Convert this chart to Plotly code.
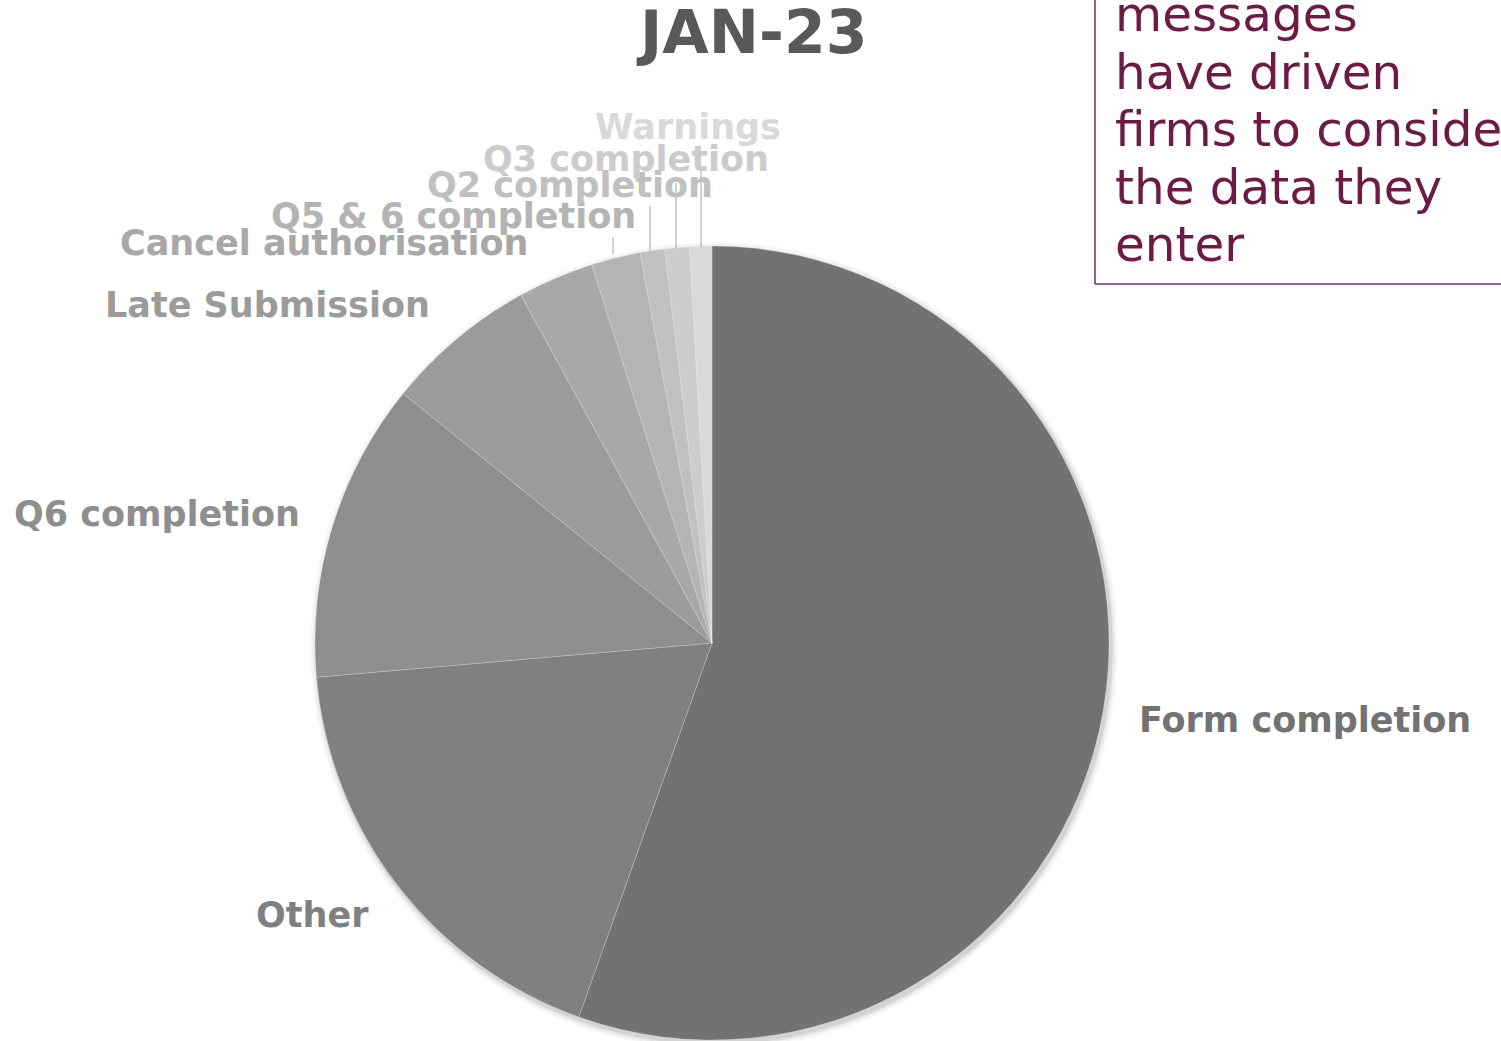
import plotly.graph_objects as go

W, H = 1501, 1041

categories = ["Form completion", "Other", "Q6 completion", "Late Submission",
              "Cancel authorisation", "Q5 & 6 completion", "Q2 completion",
              "Q3 completion", "Warnings"]
values = [55.5, 18.2, 12.2, 6.2, 3.1, 2.0, 1.0, 1.0, 0.9]
colors = ["#727272", "#808080", "#8e8e8e", "#9b9b9b", "#a8a8a8",
          "#b4b4b4", "#c0c0c0", "#cccccc", "#d9d9d9"]

title_text = "JAN-23"
note_lines = ["messages", "have driven", "firms to consider", "the data they", "enter"]


def px(x):
    return x / W


def py(y):
    return 1 - y / H


fig = go.Figure()
shapes = []

# soft shadow under the pie (several faint discs drawn below the pie)
cx, cy, r = 712, 643, 397
for grow, alpha in [(7, 0.025), (5, 0.035), (3, 0.05), (1.5, 0.07)]:
    sx, sy = cx + 2, cy + 3
    rr = r + grow
    shapes.append(dict(type="circle", xref="paper", yref="paper", layer="below",
                       x0=px(sx - rr), x1=px(sx + rr), y0=py(sy + rr), y1=py(sy - rr),
                       fillcolor=f"rgba(0,0,0,{alpha})", line=dict(width=0)))

fig.add_trace(go.Pie(
    labels=categories,
    values=values,
    sort=False,
    direction="clockwise",
    rotation=0,
    marker=dict(colors=colors, line=dict(color="rgba(255,255,255,0.35)", width=0.6)),
    textinfo="none",
    hoverinfo="label+percent",
    showlegend=False,
    domain=dict(x=[px(cx - r), px(cx + r)], y=[max(0, py(cy + r)), py(cy - r)]),
))

# label placement (anchor x, centre y, xanchor)
label_pos = {
    "Form completion": (1137, 720, "left"),
    "Other": (371, 915, "right"),
    "Q6 completion": (302, 514, "right"),
    "Late Submission": (432, 305, "right"),
    "Cancel authorisation": (531, 243, "right"),
    "Q5 & 6 completion": (638, 216, "right"),
    "Q2 completion": (715, 185, "right"),
    "Q3 completion": (771, 159, "right"),
    "Warnings": (783, 127, "right"),
}

annotations = []
for cat, col in zip(categories, colors):
    x, y, xa = label_pos[cat]
    annotations.append(dict(
        text=f"<b>{cat}</b>", x=px(x), y=py(y), xref="paper", yref="paper",
        xanchor=xa, yanchor="middle", showarrow=False,
        font=dict(family="DejaVu Sans", size=35, color=col),
    ))

# leader lines for small slices
leaders = [(613, 237, 254), (650, 206, 251), (676, 183, 248), (701, 170, 247)]
for x, y0, y1 in leaders:
    shapes.append(dict(type="line", xref="paper", yref="paper",
                       x0=px(x), x1=px(x), y0=py(y0), y1=py(y1),
                       line=dict(color="#a6a6a6", width=1)))

# title
annotations.append(dict(
    text=f"<b>{title_text}</b>", x=px(752), y=py(32), xref="paper", yref="paper",
    xanchor="center", yanchor="middle", showarrow=False,
    font=dict(family="DejaVu Sans", size=60, color="#595959"),
))

# text box (cut off at top/right)
for i, line in enumerate(note_lines):
    base = 30.5 + 57.5 * i
    annotations.append(dict(
        text=line, x=px(1113), y=py(base - 16.5), xref="paper", yref="paper",
        xanchor="left", yanchor="middle", showarrow=False,
        font=dict(family="DejaVu Sans", size=48.4, color="#6d1a45"),
    ))
shapes.append(dict(type="line", xref="paper", yref="paper",
                   x0=px(1095), x1=px(1095), y0=py(-2), y1=py(284),
                   line=dict(color="#7a2a55", width=1.5)))
shapes.append(dict(type="line", xref="paper", yref="paper",
                   x0=px(1095), x1=px(1505), y0=py(284), y1=py(284),
                   line=dict(color="#7a2a55", width=1.5)))

fig.update_layout(
    width=W, height=H,
    margin=dict(l=0, r=0, t=0, b=0),
    paper_bgcolor="white", plot_bgcolor="white",
    annotations=annotations, shapes=shapes,
)

fig.write_html("out.html")
